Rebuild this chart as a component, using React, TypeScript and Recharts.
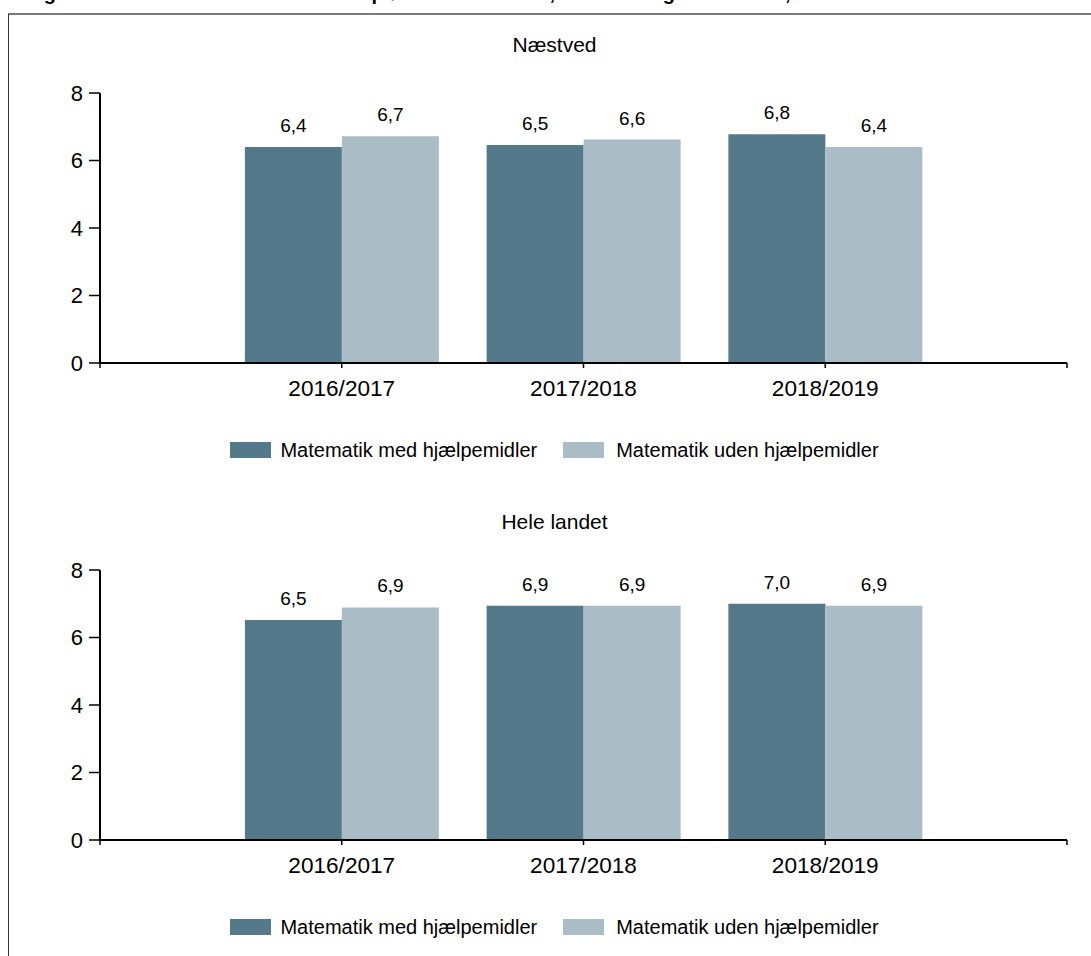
import React from 'react';
import { BarChart, Bar, XAxis, YAxis, LabelList, Legend } from 'recharts';

const FONT = '"Liberation Sans", Arial, sans-serif';
const DARK = '#54798a';
const LIGHT = '#aabcc5';

const categories = ['2016/2017', '2017/2018', '2018/2019'];
const yTicks = [0, 2, 4, 6, 8];
const seriesNames = ['Matematik med hjælpemidler', 'Matematik uden hjælpemidler'];
const panelTitles = ['Næstved', 'Hele landet'];
const naestvedMed = [6.4, 6.46, 6.78];
const naestvedUden = [6.72, 6.62, 6.4];
const heleLandetMed = [6.52, 6.94, 7.0];
const heleLandetUden = [6.89, 6.94, 6.94];
const pageTitle = 'Figur 2.1: Resultater ved de bundne prøver i matematik, Næstved og hele landet, 2016/2017 - 2018/2019';

const fmt = (v: any) => (typeof v === 'number' ? v.toFixed(1).replace('.', ',') : v);

const LegendContent = (props: any) => {
  const payload = props.payload || [];
  return (
    <div
      style={{
        display: 'flex',
        justifyContent: 'center',
        alignItems: 'center',
        height: 24,
        fontFamily: FONT,
        fontSize: 20,
        color: '#000',
      }}
    >
      {payload.map((p: any, i: number) => (
        <div key={i} style={{ display: 'flex', alignItems: 'center', marginLeft: i === 0 ? 0 : 26 }}>
          <span style={{ display: 'inline-block', width: 41, height: 16, background: p.color, marginRight: i === 0 ? 9 : 12 }} />
          <span style={{ whiteSpace: 'nowrap' }}>{p.value}</span>
        </div>
      ))}
    </div>
  );
};

function Panel({ title, med, uden, top }: { title: string; med: number[]; uden: number[]; top: number }) {
  const data = categories.map((c, i) => ({ x: i + 1, cat: c, med: med[i], uden: uden[i] }));
  return (
    <div style={{ position: 'absolute', left: 0, top, width: 1091, height: 460 }}>
      <div
        style={{
          position: 'absolute',
          top: 13,
          left: 9,
          width: 1091,
          textAlign: 'center',
          fontFamily: FONT,
          fontSize: 21,
          lineHeight: '24px',
          color: '#000',
        }}
      >
        {title}
      </div>
      <BarChart
        width={1091}
        height={460}
        data={data}
        margin={{ top: 73, right: 24, bottom: 87, left: 40 }}
        barGap={0}
        barSize={97}
      >
        <XAxis
          dataKey="x"
          type="number"
          domain={[0, 4]}
          ticks={[0, 1, 2, 3, 4]}
          interval={0}
          tickFormatter={(v: number) => categories[v - 1] ?? ''}
          tickSize={5}
          tickMargin={12}
          height={30}
          axisLine={{ stroke: '#000', strokeWidth: 2 }}
          tickLine={{ stroke: '#000', strokeWidth: 1.5 }}
          tick={{ fill: '#000', fontSize: 22.6, fontFamily: FONT }}
        />
        <YAxis
          domain={[0, 8]}
          ticks={yTicks}
          interval={0}
          width={60}
          tickSize={11}
          tickMargin={6}
          axisLine={{ stroke: '#000', strokeWidth: 2 }}
          tickLine={{ stroke: '#000', strokeWidth: 1.5 }}
          tick={{ fill: '#000', fontSize: 22, fontFamily: FONT }}
        />
        <Legend
          layout="horizontal"
          verticalAlign="middle"
          align="center"
          content={<LegendContent />}
          wrapperStyle={{ top: 418, left: 9, width: 1091 }}
        />
        <Bar dataKey="med" name={seriesNames[0]} fill={DARK} isAnimationActive={false}>
          <LabelList dataKey="med" position="top" offset={15} formatter={fmt} style={{ fill: '#000', fontSize: 19, fontFamily: FONT }} />
        </Bar>
        <Bar dataKey="uden" name={seriesNames[1]} fill={LIGHT} isAnimationActive={false}>
          <LabelList dataKey="uden" position="top" offset={15} formatter={fmt} style={{ fill: '#000', fontSize: 19, fontFamily: FONT }} />
        </Bar>
      </BarChart>
    </div>
  );
}

export default function App() {
  return (
    <div style={{ position: 'fixed', left: 0, top: 0, width: 1091, height: 956, overflow: 'hidden', background: '#fff' }}>
      <div
        style={{
          position: 'absolute',
          left: 26,
          top: -17,
          whiteSpace: 'nowrap',
          fontFamily: FONT,
          fontWeight: 'bold',
          fontSize: 20,
          lineHeight: '20px',
          color: '#000',
        }}
      >
        {pageTitle}
      </div>
      <div
        style={{
          position: 'absolute',
          left: 8,
          top: 13,
          width: 2000,
          height: 2000,
          borderTop: '2px solid #7a7a7a',
          borderLeft: '1px solid #333',
        }}
      />
      <Panel title={panelTitles[0]} med={naestvedMed} uden={naestvedUden} top={20} />
      <Panel title={panelTitles[1]} med={heleLandetMed} uden={heleLandetUden} top={497} />
    </div>
  );
}
